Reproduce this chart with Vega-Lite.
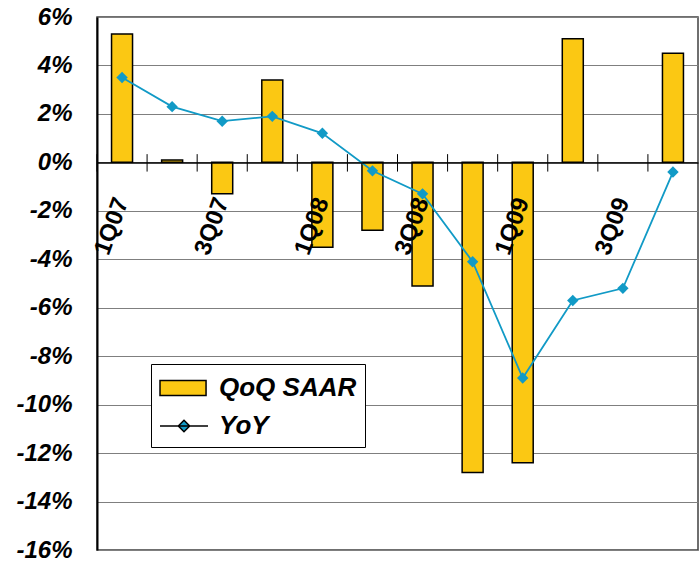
{
  "$schema": "https://vega.github.io/schema/vega-lite/v6.json",
  "autosize": "none",
  "width": 601,
  "height": 533,
  "padding": {"left": 97, "top": 17, "right": 2, "bottom": 12},
  "config": {
    "font": "Liberation Sans",
    "view": {"stroke": "#404040", "strokeWidth": 1.5}
  },
  "data": {
    "values": [
      {"q": "1Q07", "qoq": 5.3, "yoy": 3.5},
      {"q": "2Q07", "qoq": 0.1, "yoy": 2.3},
      {"q": "3Q07", "qoq": -1.3, "yoy": 1.7},
      {"q": "4Q07", "qoq": 3.4, "yoy": 1.9},
      {"q": "1Q08", "qoq": -3.5, "yoy": 1.2},
      {"q": "2Q08", "qoq": -2.8, "yoy": -0.35},
      {"q": "3Q08", "qoq": -5.1, "yoy": -1.3},
      {"q": "4Q08", "qoq": -12.8, "yoy": -4.1},
      {"q": "1Q09", "qoq": -12.4, "yoy": -8.9},
      {"q": "2Q09", "qoq": 5.1, "yoy": -5.7},
      {"q": "3Q09", "qoq": null, "yoy": -5.2},
      {"q": "4Q09", "qoq": 4.5, "yoy": -0.4}
    ]
  },
  "encoding": {
    "x": {
      "field": "q", "type": "ordinal", "sort": null,
      "scale": {"domain": ["1Q07","2Q07","3Q07","4Q07","1Q08","2Q08","3Q08","4Q08","1Q09","2Q09","3Q09","4Q09"], "paddingInner": 0, "paddingOuter": 0},
      "axis": {
        "orient": "bottom", "title": null, "offset": -387.6, "zindex": 1,
        "domainColor": "black", "domainWidth": 1.5,
        "ticks": false, "tickSize": 0,
        "labelExpr": "indexof(['1Q07','3Q07','1Q08','3Q08','1Q09','3Q09'], datum.value) >= 0 ? datum.value : ''",
        "labelAngle": -70, "labelAlign": "right", "labelBaseline": "middle",
        "labelPadding": 36,
        "labelFont": "Liberation Sans", "labelFontSize": 24, "labelFontWeight": "bold",
        "labelColor": "black", "labelOverlap": false, "grid": false
      }
    }
  },
  "layer": [
    {
      "mark": {"type": "bar", "width": 21, "stroke": "black", "strokeWidth": 1.5},
      "encoding": {
        "y": {
          "field": "qoq", "type": "quantitative",
          "scale": {"domain": [-16, 6], "nice": false},
          "axis": {
            "title": null, "values": [-16, -14, -12, -10, -8, -6, -4, -2, 0, 2, 4, 6],
            "labelExpr": "datum.value + '%'",
            "grid": true, "gridColor": "#7f7f7f", "gridWidth": 1,
            "domainColor": "black", "domainWidth": 2,
            "ticks": false, "tickSize": 0, "labelPadding": 25,
            "labelFont": "Liberation Sans", "labelFontSize": 24, "labelFontWeight": "bold", "labelFontStyle": "italic",
            "labelColor": "black", "labelBaseline": "middle", "labelDy": 3
          }
        },
        "color": {
          "datum": "QoQ SAAR",
          "scale": {"domain": ["QoQ SAAR", "YoY"], "range": ["#FBC813", "#119AC6"]},
          "legend": {
            "title": null, "orient": "none", "legendX": 54, "legendY": 347, "direction": "vertical",
            "strokeColor": "black", "fillColor": "white", "padding": 8,
            "symbolSize": 900, "labelOffset": 28, "rowPadding": 9,
            "symbolType": {"expr": "datum.label === 'YoY' ? 'M-1,0H2.2M0.6,-0.38L0.98,0L0.6,0.38L0.22,0Z' : 'M-1,-0.5H2.07V0.5H-1Z'"},
            "labelFont": "Liberation Sans", "labelFontSize": 26, "labelFontWeight": "bold", "labelFontStyle": "italic",
            "labelColor": "black", "labelLimit": 300,
            "encode": {
              "symbols": {
                "fill": {"condition": {"test": "datum.label === 'YoY'", "value": "#119AC6"}, "value": "#FBC813"},
                "stroke": {"condition": {"test": "datum.label === 'YoY'", "value": "#119AC6"}, "value": "black"},
                "strokeWidth": {"value": 1.5},
                "opacity": {"value": 1},
                "fillOpacity": {"value": 1}
              }
            }
          }
        }
      }
    },
    {
      "mark": {"type": "rule", "color": "black", "strokeWidth": 1},
      "encoding": {
        "x": {"field": "q", "type": "ordinal", "bandPosition": 0},
        "y": {"datum": 0.34},
        "y2": {"datum": -0.38}
      }
    },
    {
      "mark": {"type": "line", "color": "#119AC6", "strokeWidth": 1.8, "point": {"shape": "diamond", "size": 130, "filled": true, "opacity": 1, "color": "#119AC6"}},
      "encoding": {
        "y": {"field": "yoy", "type": "quantitative"}
      }
    }
  ]
}
